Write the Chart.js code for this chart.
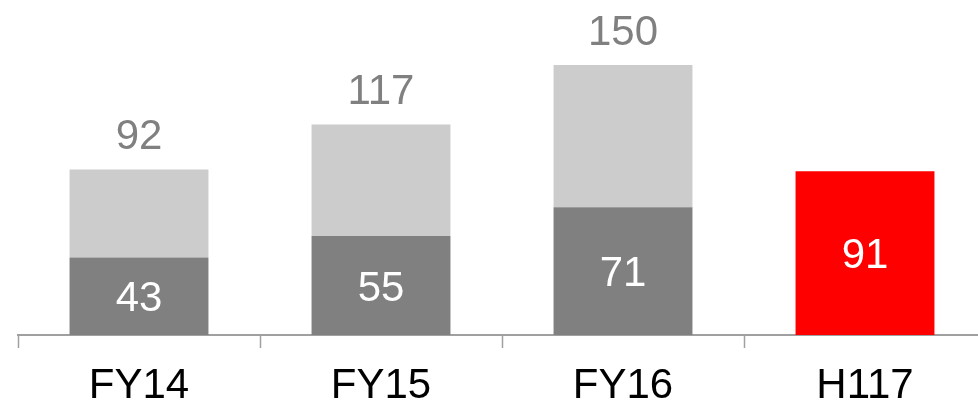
<!DOCTYPE html>
<html>
<head>
<meta charset="utf-8">
<script src="https://cdn.jsdelivr.net/npm/chart.js@4"></script>
<style>
  html, body { margin: 0; padding: 0; background: #ffffff; overflow: hidden; }
  #wrap { width: 1000px; height: 402px; position: relative; }
</style>
</head>
<body>
<div id="wrap"><canvas id="c" width="1000" height="402"></canvas></div>
<script>
const categories = ['FY14', 'FY15', 'FY16', 'H117'];
const baseValues = [43, 55, 71, 91];
const upperValues = [49, 62, 79, 0];
const totalLabels = [92, 117, 150, null];

const FONT = '"Liberation Sans", Arial, sans-serif';

const labelPlugin = {
  id: 'valueLabels',
  afterDatasetsDraw(chart) {
    const ctx = chart.ctx;
    const m0 = chart.getDatasetMeta(0);
    const m1 = chart.getDatasetMeta(1);
    ctx.save();
    ctx.font = '42px ' + FONT;
    ctx.textAlign = 'center';
    ctx.textBaseline = 'alphabetic';
    m0.data.forEach((bar, i) => {
      const cy = (bar.y + bar.base) / 2;
      ctx.fillStyle = '#ffffff';
      ctx.fillText(String(baseValues[i]), bar.x, cy + 15);
      if (totalLabels[i] !== null) {
        const top = m1.data[i].y;
        ctx.fillStyle = '#808080';
        ctx.fillText(String(totalLabels[i]), bar.x, top - 20);
      }
    });
    ctx.restore();
  }
};

new Chart(document.getElementById('c'), {
  type: 'bar',
  data: {
    labels: categories,
    datasets: [
      {
        data: baseValues,
        backgroundColor: ['#808080', '#808080', '#808080', '#ff0000'],
        borderWidth: 0,
        barPercentage: 0.574,
        categoryPercentage: 1.0
      },
      {
        data: upperValues,
        backgroundColor: '#cccccc',
        borderWidth: 0,
        barPercentage: 0.574,
        categoryPercentage: 1.0
      }
    ]
  },
  options: {
    responsive: false,
    animation: false,
    devicePixelRatio: 1,
    layout: { padding: { left: 18, right: 14, top: 11, bottom: 0 } },
    plugins: { legend: { display: false }, tooltip: { enabled: false } },
    scales: {
      x: {
        stacked: true,
        offset: true,
        afterFit(scale) { scale.height = 67; },
        grid: {
          offset: true,
          drawOnChartArea: false,
          drawTicks: true,
          tickLength: 13,
          tickWidth: 1.5,
          tickColor: '#a0a0a0'
        },
        border: { display: true, color: '#a0a0a0', width: 2 },
        ticks: {
          color: '#000000',
          padding: 17,
          font: { family: FONT, size: 42, lineHeight: 1.0 }
        }
      },
      y: {
        stacked: true,
        display: false,
        min: 0,
        max: 180
      }
    }
  },
  plugins: [labelPlugin]
});
</script>
</body>
</html>
